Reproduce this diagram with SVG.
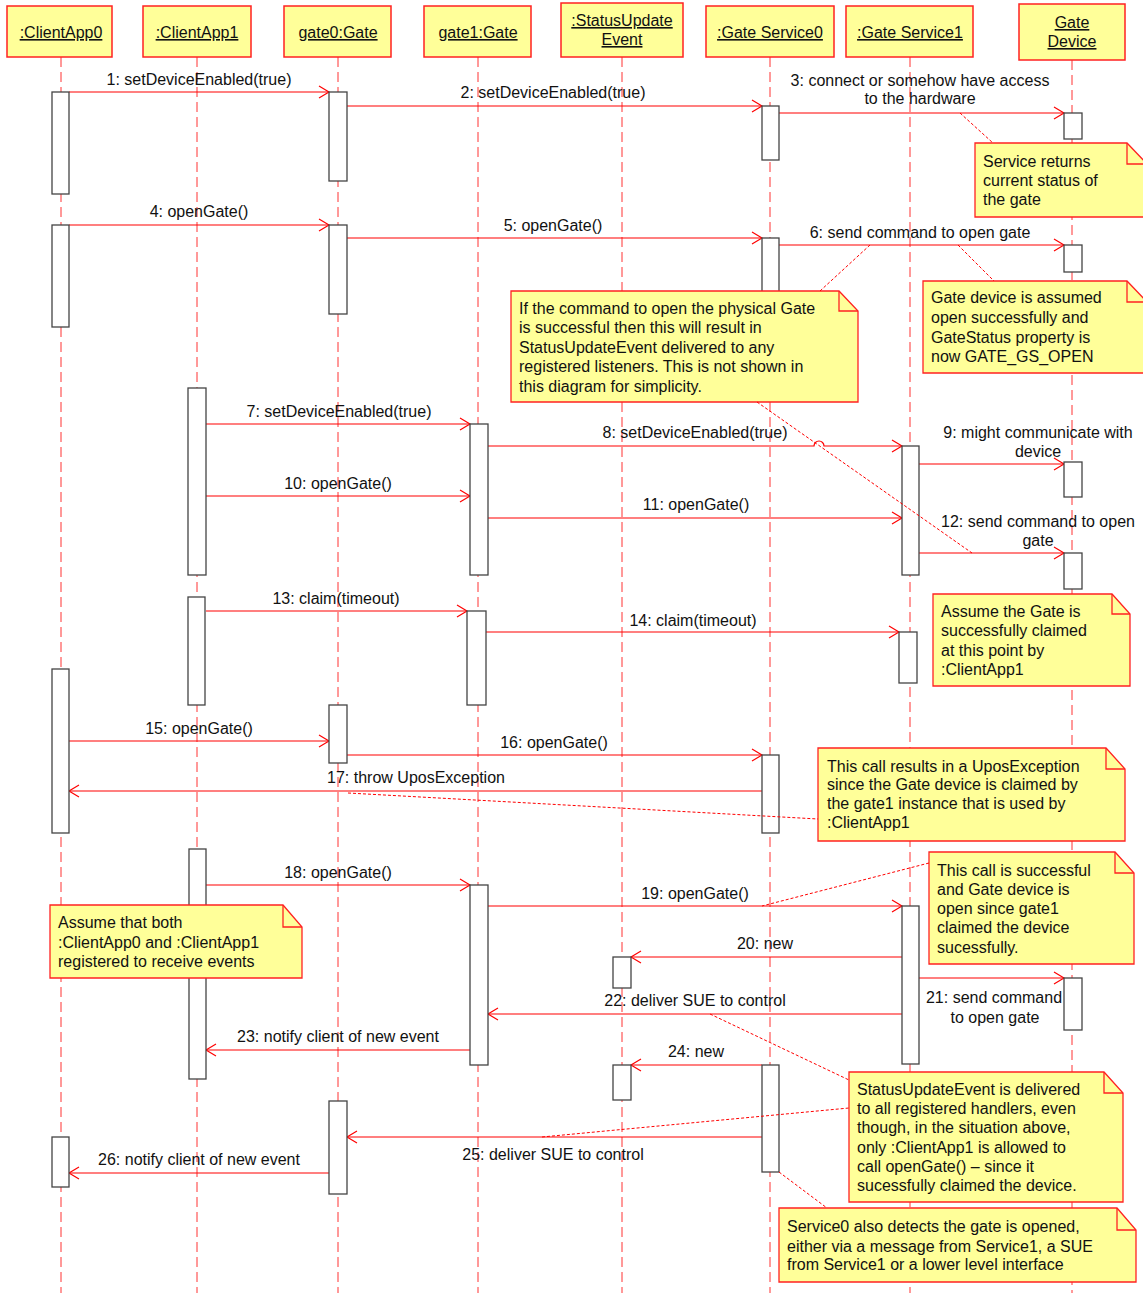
<svg xmlns="http://www.w3.org/2000/svg" width="1143" height="1293" viewBox="0 0 1143 1293">
<style>
text{font-family:"Liberation Sans",Arial,sans-serif;font-size:16px;fill:#111}
.hdr rect{fill:#ffff99;stroke:#f22;stroke-width:1.5}
.hdr text{text-anchor:middle;text-decoration:underline}
.life{stroke:#f33;stroke-width:1;stroke-dasharray:10 5;fill:none}
.bar{fill:#fff;stroke:#444;stroke-width:1.3}
.msg{stroke:#f00;stroke-width:1.2;fill:none}
.lbl{text-anchor:middle}
.note path.body{fill:#ffff99;stroke:#f22;stroke-width:1.3}
.note path.fold{fill:none;stroke:#f22;stroke-width:1.3}
.anchor{stroke:#f00;stroke-width:1;stroke-dasharray:3 2;fill:none}
</style>
<defs>
<marker id="open" markerUnits="userSpaceOnUse" markerWidth="14" markerHeight="14" refX="11" refY="7" orient="auto">
<path d="M1,1 L11,7 L1,13" fill="none" stroke="#f00" stroke-width="1.2"/>
</marker>
</defs>

<g id="lifelines">
<line class="life" x1="61" y1="57" x2="61" y2="1293"/>
<line class="life" x1="197" y1="57" x2="197" y2="1293"/>
<line class="life" x1="338" y1="57" x2="338" y2="1293"/>
<line class="life" x1="478" y1="57" x2="478" y2="1293"/>
<line class="life" x1="622" y1="57" x2="622" y2="1293"/>
<line class="life" x1="770" y1="57" x2="770" y2="1293"/>
<line class="life" x1="910" y1="57" x2="910" y2="1293"/>
<line class="life" x1="1072" y1="60" x2="1072" y2="1293"/>
</g>

<g id="headers">
<g id="ClientApp0" class="hdr"><rect x="7" y="6" width="105" height="51"/><text x="61" y="38">:ClientApp0</text></g>
<g id="ClientApp1" class="hdr"><rect x="143" y="6" width="108" height="51"/><text x="197" y="38">:ClientApp1</text></g>
<g id="gate0" class="hdr"><rect x="284" y="6" width="107" height="51"/><text x="338" y="38">gate0:Gate</text></g>
<g id="gate1" class="hdr"><rect x="424" y="6" width="107" height="51"/><text x="478" y="38">gate1:Gate</text></g>
<g id="StatusUpdateEvent" class="hdr"><rect x="561" y="3" width="122" height="54"/><text x="622" y="26">:StatusUpdate</text><text x="622" y="45">Event</text></g>
<g id="GateService0" class="hdr"><rect x="706" y="6" width="128" height="51"/><text x="770" y="38">:Gate Service0</text></g>
<g id="GateService1" class="hdr"><rect x="846" y="6" width="127" height="51"/><text x="910" y="38">:Gate Service1</text></g>
<g id="GateDevice" class="hdr"><rect x="1019" y="4" width="106" height="56"/><text x="1072" y="28">Gate</text><text x="1072" y="47">Device</text></g>
</g>

<g id="connectors">
<line class="msg" x1="69" y1="92" x2="329" y2="92" marker-end="url(#open)"/>
<line class="msg" x1="347" y1="106" x2="762" y2="106" marker-end="url(#open)"/>
<line class="msg" x1="779" y1="113" x2="1064" y2="113" marker-end="url(#open)"/>
<line class="msg" x1="69" y1="225" x2="329" y2="225" marker-end="url(#open)"/>
<line class="msg" x1="347" y1="238" x2="762" y2="238" marker-end="url(#open)"/>
<line class="msg" x1="779" y1="245" x2="1064" y2="245" marker-end="url(#open)"/>
<line class="msg" x1="206" y1="424" x2="470" y2="424" marker-end="url(#open)"/>
<path class="msg" d="M488,446 H814 A5,5 0 0 1 824,446 H902" marker-end="url(#open)"/>
<line class="msg" x1="919" y1="464" x2="1064" y2="464" marker-end="url(#open)"/>
<line class="msg" x1="206" y1="496" x2="470" y2="496" marker-end="url(#open)"/>
<line class="msg" x1="488" y1="518" x2="902" y2="518" marker-end="url(#open)"/>
<line class="msg" x1="919" y1="553" x2="1064" y2="553" marker-end="url(#open)"/>
<line class="msg" x1="206" y1="611" x2="467" y2="611" marker-end="url(#open)"/>
<line class="msg" x1="486" y1="632" x2="899" y2="632" marker-end="url(#open)"/>
<line class="msg" x1="69" y1="741" x2="329" y2="741" marker-end="url(#open)"/>
<line class="msg" x1="347" y1="755" x2="762" y2="755" marker-end="url(#open)"/>
<line class="msg" x1="762" y1="791" x2="69" y2="791" marker-end="url(#open)"/>
<line class="msg" x1="206" y1="885" x2="470" y2="885" marker-end="url(#open)"/>
<line class="msg" x1="488" y1="906" x2="902" y2="906" marker-end="url(#open)"/>
<line class="msg" x1="902" y1="957" x2="631" y2="957" marker-end="url(#open)"/>
<line class="msg" x1="919" y1="978" x2="1064" y2="978" marker-end="url(#open)"/>
<line class="msg" x1="902" y1="1014" x2="488" y2="1014" marker-end="url(#open)"/>
<line class="msg" x1="470" y1="1050" x2="206" y2="1050" marker-end="url(#open)"/>
<line class="msg" x1="762" y1="1065" x2="631" y2="1065" marker-end="url(#open)"/>
<line class="msg" x1="762" y1="1137" x2="347" y2="1137" marker-end="url(#open)"/>
<line class="msg" x1="329" y1="1173" x2="69" y2="1173" marker-end="url(#open)"/>

<text class="lbl" x="199" y="85">1: setDeviceEnabled(true)</text>
<text class="lbl" x="553" y="98">2: setDeviceEnabled(true)</text>
<text class="lbl" x="920" y="86">3: connect or somehow have access</text>
<text class="lbl" x="920" y="104">to the hardware</text>
<text class="lbl" x="199" y="217">4: openGate()</text>
<text class="lbl" x="553" y="231">5: openGate()</text>
<text class="lbl" x="920" y="238">6: send command to open gate</text>
<text class="lbl" x="339" y="417">7: setDeviceEnabled(true)</text>
<text class="lbl" x="695" y="438">8: setDeviceEnabled(true)</text>
<text class="lbl" x="1038" y="438">9: might communicate with</text>
<text class="lbl" x="1038" y="457">device</text>
<text class="lbl" x="338" y="489">10: openGate()</text>
<text class="lbl" x="696" y="510">11: openGate()</text>
<text class="lbl" x="1038" y="527">12: send command to open</text>
<text class="lbl" x="1038" y="546">gate</text>
<text class="lbl" x="336" y="604">13: claim(timeout)</text>
<text class="lbl" x="693" y="626">14: claim(timeout)</text>
<text class="lbl" x="199" y="734">15: openGate()</text>
<text class="lbl" x="554" y="748">16: openGate()</text>
<text class="lbl" x="416" y="783">17: throw UposException</text>
<text class="lbl" x="338" y="878">18: openGate()</text>
<text class="lbl" x="695" y="899">19: openGate()</text>
<text class="lbl" x="765" y="949">20: new</text>
<text class="lbl" x="994" y="1003">21: send command</text>
<text class="lbl" x="995" y="1023">to open gate</text>
<text class="lbl" x="695" y="1006">22: deliver SUE to control</text>
<text class="lbl" x="338" y="1042">23: notify client of new event</text>
<text class="lbl" x="696" y="1057">24: new</text>
<text class="lbl" x="553" y="1160">25: deliver SUE to control</text>
<text class="lbl" x="199" y="1165">26: notify client of new event</text>
</g>

<g id="activations">
<rect class="bar" x="52" y="92" width="17" height="102"/>
<rect class="bar" x="52" y="225" width="17" height="102"/>
<rect class="bar" x="52" y="669" width="17" height="164"/>
<rect class="bar" x="52" y="1137" width="17" height="50"/>
<rect class="bar" x="188" y="388" width="18" height="187"/>
<rect class="bar" x="188" y="597" width="17" height="108"/>
<rect class="bar" x="189" y="849" width="17" height="230"/>
<rect class="bar" x="329" y="92" width="18" height="89"/>
<rect class="bar" x="329" y="225" width="18" height="89"/>
<rect class="bar" x="329" y="705" width="18" height="58"/>
<rect class="bar" x="329" y="1101" width="18" height="93"/>
<rect class="bar" x="470" y="424" width="18" height="151"/>
<rect class="bar" x="467" y="611" width="19" height="94"/>
<rect class="bar" x="470" y="885" width="18" height="180"/>
<rect class="bar" x="613" y="957" width="18" height="31"/>
<rect class="bar" x="613" y="1065" width="18" height="35"/>
<rect class="bar" x="762" y="106" width="17" height="54"/>
<rect class="bar" x="762" y="238" width="17" height="72"/>
<rect class="bar" x="762" y="755" width="17" height="78"/>
<rect class="bar" x="762" y="1065" width="17" height="107"/>
<rect class="bar" x="902" y="446" width="17" height="129"/>
<rect class="bar" x="899" y="632" width="18" height="51"/>
<rect class="bar" x="902" y="906" width="17" height="158"/>
<rect class="bar" x="1064" y="113" width="18" height="26"/>
<rect class="bar" x="1064" y="245" width="18" height="27"/>
<rect class="bar" x="1064" y="462" width="18" height="35"/>
<rect class="bar" x="1064" y="553" width="18" height="36"/>
<rect class="bar" x="1064" y="978" width="18" height="52"/>
</g>

<g id="notes">
<g id="note1" class="note">
<path class="body" d="M975,143 H1127 L1147,164 V217 H975 Z"/><path class="fold" d="M1127,143 V164 H1147"/>
<text x="983" y="167">Service returns</text><text x="983" y="186">current status of</text><text x="983" y="205">the gate</text>
</g>
<g id="note2" class="note">
<path class="body" d="M923,281 H1127 L1147,302 V373 H923 Z"/><path class="fold" d="M1127,281 V302 H1147"/>
<text x="931" y="303">Gate device is assumed</text><text x="931" y="323">open successfully and</text><text x="931" y="343">GateStatus property is</text><text x="931" y="362">now GATE_GS_OPEN</text>
</g>
<g id="note3" class="note">
<path class="body" d="M511,291 H839 L858,311 V402 H511 Z"/><path class="fold" d="M839,291 V311 H858"/>
<text x="519" y="314">If the command to open the physical Gate</text><text x="519" y="333">is successful then this will result in</text><text x="519" y="353">StatusUpdateEvent delivered to any</text><text x="519" y="372">registered listeners. This is not shown in</text><text x="519" y="392">this diagram for simplicity.</text>
</g>
<g id="note4" class="note">
<path class="body" d="M933,594 H1112 L1130,614 V686 H933 Z"/><path class="fold" d="M1112,594 V614 H1130"/>
<text x="941" y="617">Assume the Gate is</text><text x="941" y="636">successfully claimed</text><text x="941" y="656">at this point by</text><text x="941" y="675">:ClientApp1</text>
</g>
<g id="note5" class="note">
<path class="body" d="M818,748 H1106 L1125,769 V841 H818 Z"/><path class="fold" d="M1106,748 V769 H1125"/>
<text x="827" y="772">This call results in a UposException</text><text x="827" y="790">since the Gate device is claimed by</text><text x="827" y="809">the gate1 instance that is used by</text><text x="827" y="828">:ClientApp1</text>
</g>
<g id="note6" class="note">
<path class="body" d="M929,852 H1115 L1134,873 V964 H929 Z"/><path class="fold" d="M1115,852 V873 H1134"/>
<text x="937" y="876">This call is successful</text><text x="937" y="895">and Gate device is</text><text x="937" y="914">open since gate1</text><text x="937" y="933">claimed the device</text><text x="937" y="953">sucessfully.</text>
</g>
<g id="note7" class="note">
<path class="body" d="M50,905 H283 L302,927 V978 H50 Z"/><path class="fold" d="M283,905 V927 H302"/>
<text x="58" y="928">Assume that both</text><text x="58" y="948">:ClientApp0 and :ClientApp1</text><text x="58" y="967">registered to receive events</text>
</g>
<g id="note8" class="note">
<path class="body" d="M849,1072 H1104 L1123,1093 V1202 H849 Z"/><path class="fold" d="M1104,1072 V1093 H1123"/>
<text x="857" y="1095">StatusUpdateEvent is delivered</text><text x="857" y="1114">to all registered handlers, even</text><text x="857" y="1133">though, in the situation above,</text><text x="857" y="1153">only :ClientApp1 is allowed to</text><text x="857" y="1172">call openGate() – since it</text><text x="857" y="1191">sucessfully claimed the device.</text>
</g>
<g id="note9" class="note">
<path class="body" d="M779,1208 H1117 L1136,1230 V1282 H779 Z"/><path class="fold" d="M1117,1208 V1230 H1136"/>
<text x="787" y="1232">Service0 also detects the gate is opened,</text><text x="787" y="1252">either via a message from Service1, a SUE</text><text x="787" y="1270">from Service1 or a lower level interface</text>
</g>
</g>

<g id="note-anchors">
<line class="anchor" x1="960" y1="113" x2="993" y2="143"/>
<line class="anchor" x1="958" y1="245" x2="994" y2="281"/>
<line class="anchor" x1="820" y1="291" x2="870" y2="245"/>
<line class="anchor" x1="757" y1="402" x2="972" y2="553"/>
<line class="anchor" x1="348" y1="793" x2="818" y2="819"/>
<line class="anchor" x1="929" y1="863" x2="762" y2="906"/>
<line class="anchor" x1="710" y1="1014" x2="849" y2="1080"/>
<line class="anchor" x1="542" y1="1137" x2="849" y2="1108"/>
<line class="anchor" x1="779" y1="1172" x2="827" y2="1208"/>
</g>
</svg>
